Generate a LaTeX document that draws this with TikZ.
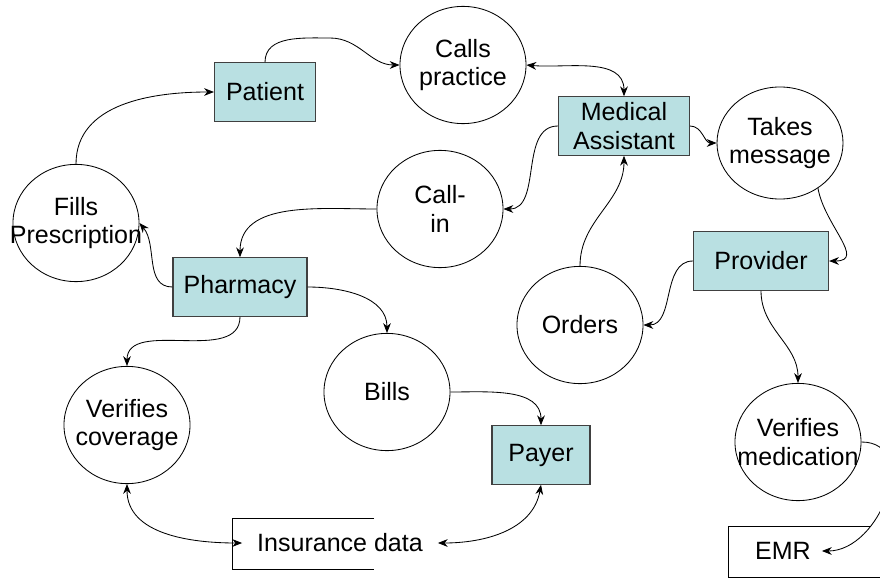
\documentclass[tikz,border=0pt]{standalone}
\usepackage{fontspec}
\setmainfont{Liberation Sans}
\usetikzlibrary{arrows.meta,shapes.geometric}
\definecolor{boxfill}{RGB}{185,224,226}
\tikzset{
	actor/.style={draw=black!75, fill=boxfill, line width=0.8pt, minimum height=1.46cm, align=center},
	blob/.style={ellipse, draw, line width=0.6pt, minimum width=3.15cm, minimum height=2.93cm},
	txt/.style={align=center},
	arr/.style={line width=0.6pt, -{Stealth[length=7pt,width=5.5pt]}},
	biarr/.style={line width=0.6pt, {Stealth[length=7pt,width=5.5pt]}-{Stealth[length=7pt,width=5.5pt]}}
}
\begin{document}
\begin{tikzpicture}[x=0.025cm, y=-0.025cm, font=\fontsize{17.8}{20.5}\selectfont]
		\useasboundingbox (0,0) rectangle (880,578);
		
		\node[actor, minimum width=2.525cm] (pat) at (265,92) {Patient};
		\node[actor, minimum width=3.275cm] (ma) at (624,126) {Medical\\Assistant};
		\node[actor, minimum width=3.35cm] (pharm) at (240,287) {Pharmacy};
		\node[actor, minimum width=3.375cm] (prov) at (761,261) {Provider};
		\node[actor, minimum width=2.45cm] (payer) at (541,455) {Payer};
		
		\node[blob, label={[txt]center:Calls\\practice}] (calls) at (463,65) {};
		\node[blob, minimum height=2.8cm, label={[txt]center:Takes\\message}] (tm) at (780,143) {};
		\node[blob, label={[txt]center:Call-\\in}] (callin) at (440,209) {};
		\node[blob, label={[txt]center:Fills\\Prescription}] (fp) at (76,223) {};
		\node[blob, label={[txt]center:Orders}] (orders) at (580,325) {};
		\node[blob, label={[txt]center:Bills}] (bills) at (387,392) {};
		\node[blob, label={[txt]center:Verifies\\coverage}] (vcov) at (127,425) {};
		\node[blob, label={[txt]center:Verifies\\medication}] (vmed) at (798,442) {};
		
		\node[inner xsep=0.37cm] (ins) at (340,543) {Insurance data};
		\draw[line width=0.6pt] (374,518) -| (232,569) -- (374,569);
		\node[inner xsep=0.27cm] (emr) at (783,551) {EMR};
		\draw[line width=0.6pt] (870,526) -| (728,577) -- (880,577);
		
		\draw[arr] (fp.north) to[out=90,in=180] (pat.west);
		\draw[arr] (pat.north) to[out=90,in=180] (330,38) to[out=0,in=180] (calls.west);
		\draw[biarr] (calls.east) to[out=-5,in=90] (ma.north);
		\draw[arr] (ma.east) to[out=0,in=180] (tm.west);
		\draw[arr] (tm.-50) to[out=-80,in=0,looseness=1.3] (prov.east);
		\draw[arr] (ma.west) to[out=180,in=0] (callin.east);
		\draw[arr] (orders.north) to[out=90,in=-90] (ma.south);
		\draw[arr] (prov.west) to[out=180,in=0] (orders.east);
		\draw[arr] (prov.south) to[out=-90,in=90] (vmed.north);
		\draw[arr] (vmed.east) to[out=0,in=0,looseness=1.3] (emr.east);
		\draw[arr] (callin.west) to[out=180,in=90] (pharm.north);
		\draw[arr] (pharm.west) to[out=180,in=-50] (fp.east);
		\draw[arr] (pharm.east) to[out=0,in=90] (bills.north);
		\draw[arr] (pharm.south) to[out=-90,in=90] (vcov.north);
		\draw[arr] (bills.east) to[out=0,in=90] (payer.north);
		\draw[biarr] (vcov.south) to[out=-90,in=180] (ins.west);
		\draw[biarr] (payer.south) to[out=-100,in=0] (ins.east);
	\end{tikzpicture}
\end{document}
